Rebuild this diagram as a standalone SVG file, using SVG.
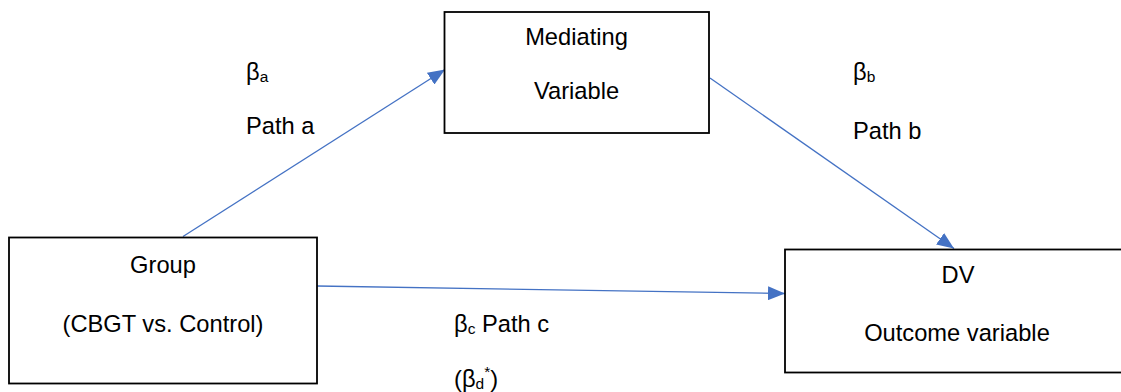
<svg xmlns="http://www.w3.org/2000/svg" width="1121" height="392" viewBox="0 0 1121 392">
<style>
  .box { fill: #ffffff; stroke: #000000; stroke-width: 1.8; }
  .t { font-family: "Liberation Sans", Arial, sans-serif; font-size: 23.7px; fill: #000000; }
  .c { text-anchor: middle; }
  .sub { font-size: 15.5px; }
  .edge { fill: none; stroke: #4472C4; stroke-width: 1.3; }
</style>
<defs>
  <marker id="arr" markerUnits="userSpaceOnUse" markerWidth="18" markerHeight="14" refX="17" refY="7" orient="auto">
    <path d="M0,0 L17,7 L0,14 z" fill="#4472C4"/>
  </marker>
</defs>
<rect width="1121" height="392" fill="#ffffff"/>
<g id="connectors">
  <line class="edge" x1="183" y1="236.5" x2="445" y2="69.5" marker-end="url(#arr)"/>
  <line class="edge" x1="710" y1="78" x2="954" y2="248.5" marker-end="url(#arr)"/>
  <line class="edge" x1="317" y1="286" x2="785" y2="293.5" marker-end="url(#arr)"/>
</g>
<g id="mediator">
  <rect class="box" x="444.5" y="12" width="264.5" height="121"/>
  <text class="t c" x="576.5" y="44.5">Mediating</text>
  <text class="t c" x="576.5" y="98.5">Variable</text>
</g>
<g id="group">
  <rect class="box" x="9" y="237.5" width="308" height="146"/>
  <text class="t c" x="163" y="273">Group</text>
  <text class="t c" x="163" y="332">(CBGT vs. Control)</text>
</g>
<g id="dv">
  <rect class="box" x="785" y="249.5" width="345" height="123"/>
  <text class="t c" x="958" y="283">DV</text>
  <text class="t c" x="957" y="341">Outcome variable</text>
</g>
<g id="labels">
  <text class="t" x="246" y="80">β<tspan class="sub" dy="2">a</tspan></text>
  <text class="t" x="246" y="133.5">Path a</text>
  <text class="t" x="853" y="80">β<tspan class="sub" dy="2">b</tspan></text>
  <text class="t" x="853" y="139">Path b</text>
  <text class="t" x="454" y="332">β<tspan class="sub" dy="2">c</tspan><tspan dy="-2"> Path c</tspan></text>
  <text class="t" x="454" y="387">(β<tspan class="sub" dy="2">d</tspan><tspan class="sub" dy="-12">*</tspan><tspan dy="10">)</tspan></text>
</g>
</svg>
